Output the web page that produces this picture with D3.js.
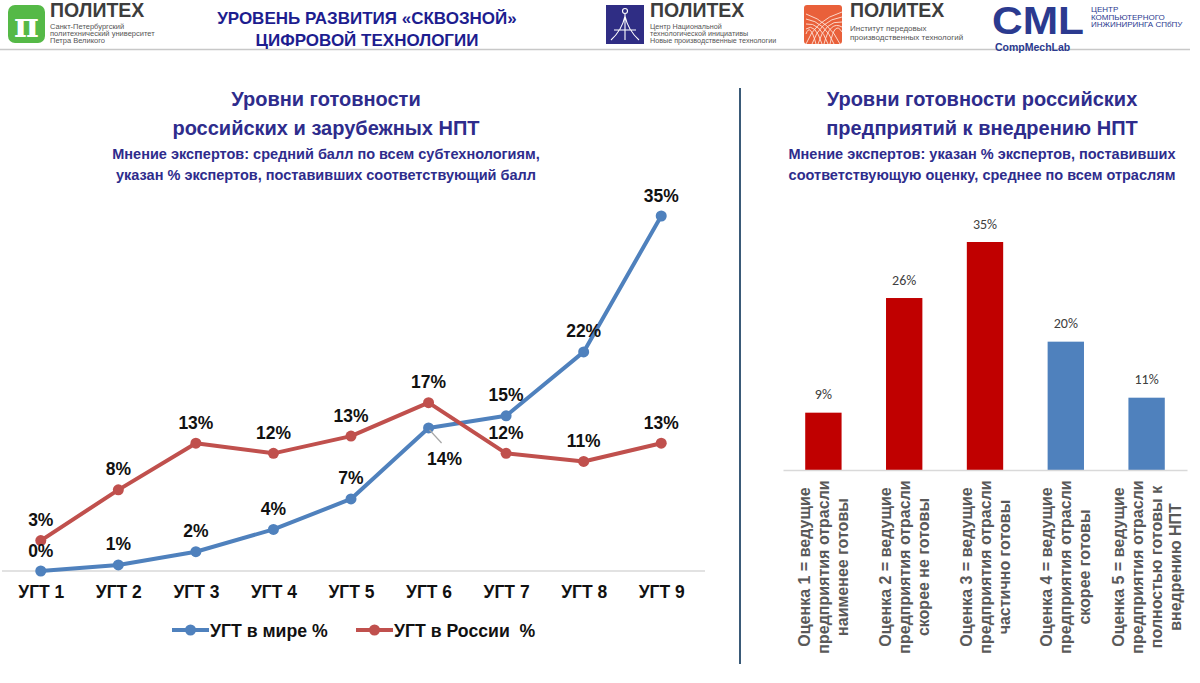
<!DOCTYPE html>
<html><head><meta charset="utf-8">
<script src="https://cdn.jsdelivr.net/npm/d3@7"></script>
<style>
html,body{margin:0;padding:0;background:#fff;}
svg{display:block;}
</style></head>
<body>
<svg id="c" width="1200" height="683"></svg>
<script>
// ---------- DATA ----------
const ugtCategories = ["УГТ 1","УГТ 2","УГТ 3","УГТ 4","УГТ 5","УГТ 6","УГТ 7","УГТ 8","УГТ 9"];
const worldValues = [0, 0.6, 1.9, 4.1, 7.1, 14.1, 15.3, 21.6, 35.0];
const russiaValues = [3.0, 8.0, 12.6, 11.6, 13.3, 16.6, 11.6, 10.8, 12.6];
const seriesNames = ["УГТ в мире %", "УГТ в России  %"];

const readinessCategories = [
  ["Оценка 1 = ведущие", "предприятия отрасли", "наименее готовы"],
  ["Оценка 2 = ведущие", "предприятия отрасли", "скорее не готовы"],
  ["Оценка 3 = ведущие", "предприятия отрасли", "частично готовы"],
  ["Оценка 4 = ведущие", "предприятия отрасли", "скорее готовы"],
  ["Оценка 5 = ведущие", "предприятия отрасли", "полностью готовы к", "внедрению НПТ"]
];
const readinessValues = [8.8, 26.4, 35.0, 19.7, 11.1];

const headerTitle = ["УРОВЕНЬ РАЗВИТИЯ «СКВОЗНОЙ»", "ЦИФРОВОЙ ТЕХНОЛОГИИ"];
const leftTitle = ["Уровни готовности", "российских и зарубежных НПТ"];
const leftSubtitle = ["Мнение экспертов: средний балл по всем субтехнологиям,", "указан % экспертов, поставивших соответствующий балл"];
const rightTitle = ["Уровни готовности российских", "предприятий к внедрению НПТ"];
const rightSubtitle = ["Мнение экспертов: указан % экспертов, поставивших", "соответствующую оценку, среднее по всем отраслям"];

// ---------- STYLE ----------
const BLUE = "#4f81bd", RED = "#c0504d", BAR_RED = "#c00000", BAR_BLUE = "#4f81bd";
const NAVY = "#2e2c8c";
const SANS = "'Liberation Sans', Arial, sans-serif";
const NARROW = "'Liberation Sans Narrow', 'Arial Narrow', 'Liberation Sans', sans-serif";

const svg = d3.select("#c");

function condense(sel, f){
  sel.each(function(){
    const l = this.getComputedTextLength();
    this.setAttribute("textLength", (l*f).toFixed(1));
    this.setAttribute("lengthAdjust","spacingAndGlyphs");
  });
}

// ---------- HEADER ----------
svg.append("line").attr("x1",0).attr("x2",1190).attr("y1",49.5).attr("y2",49.5)
  .attr("stroke","#c8c8c8").attr("stroke-width",1.5);

svg.append("g").selectAll("text").data(headerTitle).join("text")
  .attr("x",367).attr("y",(d,i)=>24+i*22).attr("text-anchor","middle")
  .attr("font-family",SANS).attr("font-weight","bold").attr("font-size",17)
  .attr("fill","#1d1d8f").text(d=>d);

function smallLines(x, y0, lines, step, size, color){
  svg.append("g").selectAll("text").data(lines).join("text")
    .attr("x",x).attr("y",(d,i)=>y0+i*step)
    .attr("font-family",SANS).attr("font-size",size).attr("fill",color||"#555").text(d=>d);
}
function politex(x){
  svg.append("text").attr("x",x).attr("y",17).attr("font-family",SANS).attr("font-weight","bold")
    .attr("font-size",19.5).attr("fill","#3d3d3d").text("ПОЛИТЕХ");
}
// logo 1
svg.append("rect").attr("x",8).attr("y",5).attr("width",37).attr("height",38).attr("rx",7).attr("fill","#55b947");
svg.append("text").attr("x",26.5).attr("y",37).attr("text-anchor","middle").attr("font-family","'DejaVu Serif', serif")
  .attr("font-weight","bold").attr("font-size",34).attr("fill","#fff").text("π");
politex(50);
smallLines(50, 28.5, ["Санкт-Петербургский","политехнический университет","Петра Великого"], 7, 7.5);
// logo 2
svg.append("rect").attr("x",606).attr("y",5).attr("width",38).attr("height",39).attr("fill","#2f2d84");
const tw = svg.append("g").attr("stroke","#fff").attr("fill","none").attr("stroke-width",1.1);
tw.append("circle").attr("cx",625).attr("cy",11).attr("r",2.5);
tw.append("path").attr("d","M625 14 L625 40 M625 16 Q622 30 611 40 M625 16 Q628 30 639 40 M614 30 L636 30");
politex(650);
smallLines(650, 28.5, ["Центр Национальной","технологической инициативы","Новые производственные технологии"], 7, 7.2);
// logo 3
svg.append("rect").attr("x",804).attr("y",5).attr("width",38).attr("height",39).attr("rx",3).attr("fill","#e9603a");
const gr = svg.append("g").attr("stroke","#fde3d8").attr("fill","none").attr("stroke-width",0.9);
[0,1,2,3,4].forEach(i=>{
  gr.append("path").attr("d",`M${806+i*6} 44 Q${815+i*5} ${20} ${842} ${12+i*5}`);
  gr.append("path").attr("d",`M${840-i*6} 44 Q${830-i*5} ${22} ${806} ${14+i*5}`);
});
politex(850);
smallLines(850, 31, ["Институт передовых","производственных технологий"], 8.5, 8);
// logo 4 CML
svg.append("text").attr("x",992).attr("y",34).attr("font-family",SANS).attr("font-weight","bold")
  .attr("font-size",38).attr("fill","#2b3a8f").attr("textLength",92).attr("lengthAdjust","spacingAndGlyphs").text("CML");
svg.append("text").attr("x",995).attr("y",51).attr("font-family",SANS).attr("font-weight","bold")
  .attr("font-size",10.5).attr("fill","#2b3a8f").text("CompMechLab");
smallLines(1091, 12, ["ЦЕНТР","КОМПЬЮТЕРНОГО","ИНЖИНИРИНГА СПбПУ"], 7.5, 8, "#2b3a8f");

// ---------- TITLES ----------
function titleBlock(cx, title, sub){
  svg.append("g").selectAll("text").data(title).join("text")
    .attr("x",cx).attr("y",(d,i)=>106+i*29).attr("text-anchor","middle")
    .attr("font-family",SANS).attr("font-weight","bold").attr("font-size",20).attr("fill",NAVY).text(d=>d);
  svg.append("g").selectAll("text").data(sub).join("text")
    .attr("x",cx).attr("y",(d,i)=>159+i*21).attr("text-anchor","middle")
    .attr("font-family",SANS).attr("font-weight","bold").attr("font-size",14.5).attr("fill",NAVY).text(d=>d);
}
titleBlock(326, leftTitle, leftSubtitle);
titleBlock(982, rightTitle, rightSubtitle);

// divider
svg.append("line").attr("x1",740).attr("x2",740).attr("y1",88).attr("y2",664)
  .attr("stroke","#3a5a78").attr("stroke-width",2);

// ---------- LEFT LINE CHART ----------
const xL = d3.scalePoint().domain(ugtCategories).range([2,700]).padding(0.5);
const yL = d3.scaleLinear().domain([0,35]).range([571,216]);

const axL = svg.append("g").attr("transform","translate(0,571)")
  .call(d3.axisBottom(xL).tickSize(0).tickPadding(14));
axL.select(".domain").attr("stroke","#d9d9d9").attr("stroke-width",1.5).attr("d","M2,0H705");
axL.selectAll("text").attr("font-family",NARROW).attr("font-weight","bold").attr("font-size",19).attr("fill","#111")
  .call(condense, 0.92);

const lineGen = d3.line().x((d,i)=>xL(ugtCategories[i])).y(d=>yL(d));
const series = [{vals:worldValues,color:BLUE},{vals:russiaValues,color:RED}];
series.forEach(s=>{
  svg.append("path").datum(s.vals).attr("d",lineGen).attr("fill","none")
    .attr("stroke",s.color).attr("stroke-width",4).attr("stroke-linejoin","round");
  svg.append("g").selectAll("circle").data(s.vals).join("circle")
    .attr("cx",(d,i)=>xL(ugtCategories[i])).attr("cy",d=>yL(d)).attr("r",5.5).attr("fill",s.color);
});
// labels
const fmt = v => Math.round(v) + "%";
series.forEach((s,si)=>{
  svg.append("g").selectAll("text").data(s.vals).join("text")
    .attr("x",(d,i)=> (si===0 && i===5) ? xL(ugtCategories[i])+16 : xL(ugtCategories[i]))
    .attr("y",(d,i)=> (si===0 && i===5) ? yL(d)+31 : yL(d)-21)
    .attr("text-anchor","middle").attr("dominant-baseline","central")
    .attr("font-family",NARROW).attr("font-weight","bold").attr("font-size",19).attr("fill","#111")
    .text(d=>fmt(d)).call(condense, 0.92);
});
// leader line for 14%
svg.append("line").attr("x1",xL(ugtCategories[5])+1).attr("y1",yL(worldValues[5])+2)
  .attr("x2",xL(ugtCategories[5])+13).attr("y2",yL(worldValues[5])+15)
  .attr("stroke","#a6a6a6").attr("stroke-width",1.2);

// legend
const legItems = [{x:172,color:BLUE,name:seriesNames[0]},{x:356,color:RED,name:seriesNames[1]}];
const leg = svg.append("g");
legItems.forEach(it=>{
  leg.append("line").attr("x1",it.x).attr("x2",it.x+37).attr("y1",630).attr("y2",630)
    .attr("stroke",it.color).attr("stroke-width",4);
  leg.append("circle").attr("cx",it.x+18.5).attr("cy",630).attr("r",5.5).attr("fill",it.color);
  leg.append("text").attr("x",it.x+38).attr("y",630).attr("dominant-baseline","central")
    .attr("font-family",NARROW).attr("font-weight","bold").attr("font-size",19).attr("fill","#111")
    .style("white-space","pre").text(it.name).call(condense, 0.93);
});

// ---------- RIGHT BAR CHART ----------
const idx = readinessValues.map((d,i)=>i);
const xR = d3.scaleBand().domain(idx).range([783,1187]).paddingInner(0.55).paddingOuter(0.275);
const yR = d3.scaleLinear().domain([0,35]).range([470,242]);

svg.append("g").selectAll("rect").data(readinessValues).join("rect")
  .attr("x",(d,i)=>xR(i)).attr("y",d=>yR(d)).attr("width",xR.bandwidth())
  .attr("height",d=>yR(0)-yR(d)).attr("fill",(d,i)=> i<3 ? BAR_RED : BAR_BLUE);

const axR = svg.append("g").attr("transform","translate(0,470)").call(d3.axisBottom(xR).tickSize(0).tickFormat(""));
axR.select(".domain").attr("stroke","#d9d9d9").attr("stroke-width",1.5);

svg.append("g").selectAll("text").data(readinessValues).join("text")
  .attr("x",(d,i)=>xR(i)+xR.bandwidth()/2).attr("y",d=>yR(d)-18)
  .attr("text-anchor","middle").attr("dominant-baseline","central")
  .attr("font-family","Carlito, 'Liberation Sans', sans-serif").attr("font-size",14).attr("fill","#404040")
  .text(d=>fmt(d));

readinessCategories.forEach((lines,i)=>{
  const g = svg.append("g").attr("transform",`translate(${xR(i)+xR.bandwidth()/2},567) rotate(-90)`);
  const n = lines.length;
  g.selectAll("text").data(lines).join("text")
    .attr("x",0).attr("y",(d,j)=>(j-(n-1)/2)*19)
    .attr("text-anchor","middle").attr("dominant-baseline","central")
    .attr("font-family",SANS).attr("font-weight","bold").attr("font-size",16).attr("fill","#595959")
    .text(d=>d);
});
</script>
</body></html>
